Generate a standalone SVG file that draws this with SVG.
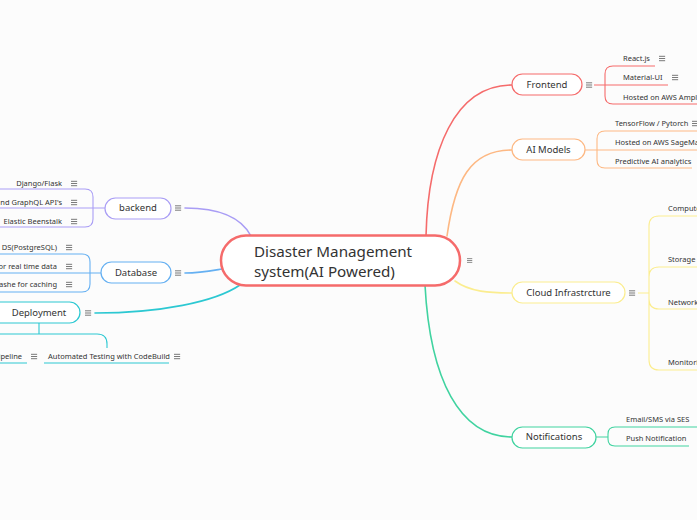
<svg xmlns="http://www.w3.org/2000/svg" width="697" height="520" viewBox="0 0 697 520">
<style>
  text { font-family: "Noto Sans", "Liberation Sans", sans-serif; fill: #333; }
  .main { font-size: 15.2px; }
  .node { font-size: 9.5px; text-anchor: middle; }
  .leaf { font-size: 7.5px; }
  .end { text-anchor: end; }
  .c { fill: none; stroke-width: 1.6; stroke-linecap: round; }
  .b { fill: none; stroke-width: 1.1; }
  .box { fill: #fff; stroke-width: 1.2; }
  .red { stroke: #f56b6b; }
  .org { stroke: #fdb883; }
  .yel { stroke: #fbed8f; }
  .grn { stroke: #40d3a0; }
  .pur { stroke: #a99df5; }
  .blu { stroke: #65b0f2; }
  .tea { stroke: #2cc8d2; }
</style>
<defs>
  <symbol id="menu" viewBox="0 0 8 8" overflow="visible">
    <path d="M0,1.5H7M0,4H7M0,6.5H7" stroke="#555" stroke-width="0.9" fill="none"/>
  </symbol>
</defs>
<rect width="697" height="520" fill="#fcfcfc"/>

<g id="connectors">
  <path class="c red" d="M426,236 C428,150 455,85 512,85"/>
  <path class="c org" d="M447,236 C455,180 470,150 512,150"/>
  <path class="c yel" d="M455,281 C470,292 490,293 512,293"/>
  <path class="c grn" d="M425,285 C430,380 460,437 512,437"/>
  <path class="c pur" d="M185,208 C215,208 240,215 251,236"/>
  <path class="c blu" d="M185,273 C200,273 210,271 222,269"/>
  <path class="c tea" d="M95,313 C160,313 215,302 240,285"/>

  <!-- Frontend bracket -->
  <path class="b red" d="M594,85 H605 M605,85 V74 Q605,66 613,66 H655 M605,85 H668 M605,85 V96 Q605,104 613,104 H697"/>
  <!-- AI bracket -->
  <path class="b org" d="M585,150 H597 M597,150 V139 Q597,131 605,131 H697 M597,150 H697 M597,150 V160 Q597,168 605,168 H692"/>
  <!-- Cloud bracket -->
  <path class="b yel" d="M638,293 H649 M649,293 V226 Q649,216 659,216 H697 M649,285 V277 Q649,267 659,267 H697 M649,293 V299 Q649,309 659,309 H697 M649,293 V360 Q649,370 659,370 H697"/>
  <!-- Notifications bracket -->
  <path class="b grn" d="M596,437 H608 M608,437 V434 Q608,427 615,427 H697 M608,437 V439 Q608,446 615,446 H689"/>
  <!-- backend bracket -->
  <path class="b pur" d="M105,208 H0 M93,208 V197 Q93,189 85,189 H0 M93,208 V219 Q93,227 85,227 H0"/>
  <!-- Database bracket -->
  <path class="b blu" d="M101,273 H0 M90,273 V262 Q90,254 82,254 H0 M90,273 V284 Q90,292 82,292 H0"/>
  <!-- Deployment branch -->
  <path class="b tea" d="M39,323 V334 M0,334 H97 Q107,334 107,344 V348 M0,363 H27 M44,363 H169"/>
</g>

<g id="central">
  <rect x="221" y="235.5" width="239" height="50" rx="25" fill="#fff" stroke="#f56b6b" stroke-width="2.5"/>
  <text class="main" x="254" y="257">Disaster Management</text>
  <text class="main" x="254" y="277">system(AI Powered)</text>
  <use href="#menu" x="467" y="257" width="6" height="7"/>
</g>

<g id="frontend">
  <rect class="box red" x="512" y="74" width="70" height="21" rx="10.5"/>
  <text class="node" x="547" y="88.3">Frontend</text>
  <use href="#menu" x="586" y="81" width="7" height="8"/>
</g>
<g id="frontend-reactjs">
  <text class="leaf" x="623" y="60.5">React.js</text>
  <use href="#menu" x="659" y="54.5" width="7" height="8"/>
</g>
<g id="frontend-material">
  <text class="leaf" x="623" y="79.5">Material-UI</text>
  <use href="#menu" x="672" y="73.5" width="7" height="8"/>
</g>
<g id="frontend-hosted">
  <text class="leaf" x="623" y="99.5">Hosted on AWS Ampli</text>
</g>

<g id="ai-models">
  <rect class="box org" x="512" y="139" width="73" height="21" rx="10.5"/>
  <text class="node" x="548.5" y="153.3">AI Models</text>
</g>
<g id="ai-tensorflow">
  <text class="leaf" x="615" y="125.5">TensorFlow / Pytorch</text>
  <use href="#menu" x="692" y="119.5" width="7" height="8"/>
</g>
<g id="ai-sagemaker">
  <text class="leaf" x="615" y="144.5">Hosted on AWS SageMa</text>
</g>
<g id="ai-predictive">
  <text class="leaf" x="615" y="163.5">Predictive AI analytics</text>
</g>

<g id="cloud">
  <rect class="box yel" x="512" y="282" width="113" height="21" rx="10.5"/>
  <text class="node" x="568.5" y="296.3">Cloud Infrastrcture</text>
  <use href="#menu" x="629" y="289" width="7" height="8"/>
</g>
<g id="cloud-compute"><text class="leaf" x="668" y="210.5">Compute</text></g>
<g id="cloud-storage"><text class="leaf" x="668" y="261.5">Storage</text></g>
<g id="cloud-network"><text class="leaf" x="668" y="304.5">Network</text></g>
<g id="cloud-monitoring"><text class="leaf" x="668" y="364.5">Monitori</text></g>

<g id="notifications">
  <rect class="box grn" x="512" y="427" width="84" height="21" rx="10.5"/>
  <text class="node" x="554" y="440.3">Notifications</text>
</g>
<g id="notif-email"><text class="leaf" x="626" y="421.5">Email/SMS  via SES</text></g>
<g id="notif-push"><text class="leaf" x="626" y="440.5">Push Notification</text></g>

<g id="backend">
  <rect class="box pur" x="105" y="198" width="66" height="21" rx="10.5"/>
  <text class="node" x="138" y="211.3">backend</text>
  <use href="#menu" x="175" y="204" width="7" height="8"/>
</g>
<g id="backend-django">
  <text class="leaf end" x="62" y="185.5">Django/Flask</text>
  <use href="#menu" x="71" y="179.5" width="7" height="8"/>
</g>
<g id="backend-api">
  <text class="leaf end" x="62" y="204.5">nd GraphQL API's</text>
  <use href="#menu" x="71" y="198.5" width="7" height="8"/>
</g>
<g id="backend-elastic">
  <text class="leaf end" x="62" y="223.5">Elastic Beenstalk</text>
  <use href="#menu" x="71" y="217.5" width="7" height="8"/>
</g>

<g id="database">
  <rect class="box blu" x="101" y="262" width="70" height="21" rx="10.5"/>
  <text class="node" x="136" y="276.3">Database</text>
  <use href="#menu" x="175" y="269" width="7" height="8"/>
</g>
<g id="db-rds">
  <text class="leaf end" x="57" y="249.5">DS(PostgreSQL)</text>
  <use href="#menu" x="66" y="243.5" width="7" height="8"/>
</g>
<g id="db-realtime">
  <text class="leaf end" x="57" y="268.5">or real time data</text>
  <use href="#menu" x="66" y="262.5" width="7" height="8"/>
</g>
<g id="db-cache">
  <text class="leaf end" x="57" y="286.5">ashe for caching</text>
  <use href="#menu" x="66" y="280.5" width="7" height="8"/>
</g>

<g id="deployment">
  <rect class="box tea" x="-10" y="302" width="90" height="21" rx="10.5"/>
  <text class="node" x="39" y="316.3">Deployment</text>
  <use href="#menu" x="85" y="309" width="7" height="8"/>
</g>
<g id="deploy-pipeline">
  <text class="leaf end" x="22" y="358.5">ipeline</text>
  <use href="#menu" x="31" y="352.5" width="7" height="8"/>
</g>
<g id="deploy-testing">
  <text class="leaf" x="48" y="358.5">Automated Testing with CodeBuild</text>
  <use href="#menu" x="174" y="352.5" width="7" height="8"/>
</g>
</svg>
